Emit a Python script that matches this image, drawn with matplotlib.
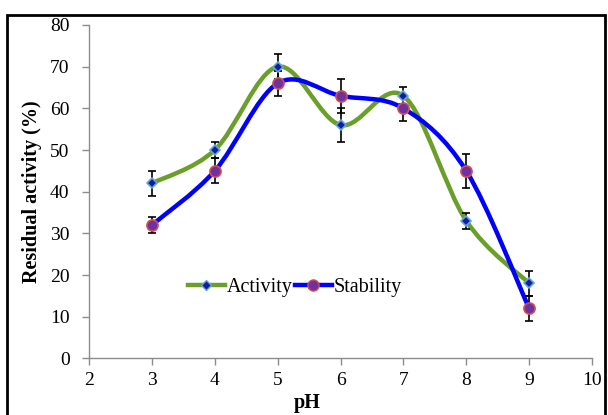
import matplotlib
matplotlib.use('Agg')
import matplotlib.pyplot as plt
from matplotlib.path import Path
from matplotlib.patches import PathPatch, Rectangle
from matplotlib.lines import Line2D
import numpy as np

ph = [3, 4, 5, 6, 7, 8, 9]
activity = [42, 50, 70, 56, 63, 33, 18]
activity_err = [3, 2, 3, 4, 2, 2, 3]
stability = [32, 45, 66, 63, 60, 45, 12]
stability_err = [2, 3, 3, 4, 3, 4, 3]

GREEN = '#6a9f2a'
BLUE = '#0000ff'


def smooth_path(x, y):
    # Excel-like smoothed line: cubic bezier through the points
    pts = np.column_stack([x, y]).astype(float)
    n = len(pts)
    verts = [pts[0]]
    codes = [Path.MOVETO]
    for i in range(n - 1):
        p0 = pts[i - 1] if i > 0 else pts[i]
        p1 = pts[i]
        p2 = pts[i + 1]
        p3 = pts[i + 2] if i + 2 < n else pts[i + 1]
        c1 = p1 + (p2 - p0) / 6.0
        c2 = p2 - (p3 - p1) / 6.0
        verts += [c1, c2, p2]
        codes += [Path.CURVE4] * 3
    return Path(verts, codes)


plt.rcParams['font.family'] = 'Liberation Serif'

fig = plt.figure(figsize=(6.08, 4.15), dpi=100)
ax = fig.add_axes([0.1464, 0.1364, 0.8273, 0.8034])

# smooth lines
ax.add_patch(PathPatch(smooth_path(ph, activity), facecolor='none',
                       edgecolor=GREEN, lw=3.2, zorder=2))
ax.add_patch(PathPatch(smooth_path(ph, stability), facecolor='none',
                       edgecolor=BLUE, lw=3.2, zorder=3))

# error bars
ax.errorbar(ph, activity, yerr=activity_err, fmt='none', ecolor='black',
            elinewidth=1.2, capsize=3, capthick=1.2, zorder=4)
ax.errorbar(ph, stability, yerr=stability_err, fmt='none', ecolor='black',
            elinewidth=1.2, capsize=3, capthick=1.2, zorder=4)

# markers
ax.plot(ph, activity, linestyle='none', marker='D', markersize=5,
        markerfacecolor='#1a1aa0', markeredgecolor='#5fa8d8', markeredgewidth=1.2, zorder=5)
ax.plot(ph, stability, linestyle='none', marker='o', markersize=8,
        markerfacecolor='#7030a0', markeredgecolor='#d05050', markeredgewidth=1.2, zorder=5)

ax.set_xlim(2, 10)
ax.set_ylim(0, 80)
ax.set_xticks(range(2, 11))
ax.set_yticks(range(0, 81, 10))

for s in ['top', 'right']:
    ax.spines[s].set_visible(False)
for s in ['left', 'bottom']:
    ax.spines[s].set_color('#8c8c8c')
    ax.spines[s].set_linewidth(1.0)
ax.tick_params(axis='both', colors='#8c8c8c', labelcolor='black',
               labelsize=14, length=5, width=1.0, direction='out')
ax.tick_params(axis='y', pad=9)
ax.tick_params(axis='x', pad=5)

ax.set_ylabel('Residual activity (%)', fontsize=14.5, fontweight='bold', labelpad=6)
fig.text(0.505, 0.006, 'pH', fontsize=14.5, fontweight='bold', ha='center', va='bottom')

handles = [
    Line2D([], [], color=GREEN, lw=3.2, marker='D', markersize=5,
           markerfacecolor='#1a1aa0', markeredgecolor='#5fa8d8'),
    Line2D([], [], color=BLUE, lw=3.2, marker='o', markersize=8,
           markerfacecolor='#7030a0', markeredgecolor='#d05050'),
]
ax.legend(handles, ['Activity', 'Stability'], ncol=2, frameon=False,
          fontsize=14.5, handlelength=1.8, handletextpad=0.12, columnspacing=0.12,
          loc='center', bbox_to_anchor=(0.41, 0.214))

# outer frame
fig.patches.append(Rectangle((7 / 608, -0.05), 598 / 608, 1 - 15 / 415 + 0.05,
                             transform=fig.transFigure, fill=False,
                             edgecolor='black', lw=2, zorder=0))

fig.savefig('out.png', dpi=100)
